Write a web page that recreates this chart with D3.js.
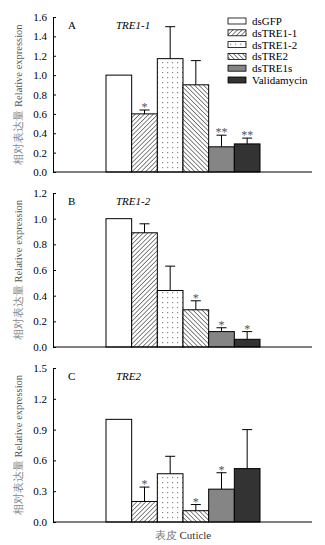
<!DOCTYPE html>
<html>
<head>
<meta charset="utf-8">
<script src="https://cdn.jsdelivr.net/npm/d3@7"></script>
<style>
  body { margin: 0; background: #fff; }
  text { font-family: "Liberation Serif", "Times New Roman", serif; }
</style>
</head>
<body>
<div id="chart"></div>
<script>
// treatments
var groups = ["dsGFP", "dsTRE1-1", "dsTRE1-2", "dsTRE2", "dsTRE1s", "Validamycin"];

// panel A: TRE1-1
var meanA = [1.0, 0.60, 1.17, 0.90, 0.26, 0.29];
var errA  = [0, 0.04, 0.33, 0.25, 0.12, 0.06];
var sigA  = ["", "*", "", "", "**", "**"];
var ticksA = [0, 0.2, 0.4, 0.6, 0.8, 1.0, 1.2, 1.4, 1.6];

// panel B: TRE1-2
var meanB = [1.0, 0.89, 0.44, 0.29, 0.12, 0.06];
var errB  = [0, 0.07, 0.19, 0.07, 0.03, 0.06];
var sigB  = ["", "", "", "*", "*", "*"];
var ticksB = [0, 0.2, 0.4, 0.6, 0.8, 1.0, 1.2];

// panel C: TRE2
var meanC = [1.0, 0.20, 0.47, 0.11, 0.32, 0.52];
var errC  = [0, 0.14, 0.17, 0.06, 0.16, 0.38];
var sigC  = ["", "*", "", "*", "*", ""];
var ticksC = [0, 0.3, 0.6, 0.9, 1.2, 1.5];

var fills = ["#ffffff", "url(#hatchR)", "url(#dots)", "url(#hatchL)", "#858585", "#333333"];

var svg = d3.select("#chart").append("svg")
  .attr("width", 325).attr("height", 545);

// fill patterns
var defs = svg.append("defs");
var pR = defs.append("pattern").attr("id", "hatchR")
  .attr("patternUnits", "userSpaceOnUse").attr("width", 3.2).attr("height", 3.2)
  .attr("patternTransform", "rotate(45)");
pR.append("rect").attr("width", 3.2).attr("height", 3.2).attr("fill", "#fff");
pR.append("line").attr("x1", 0).attr("y1", 0).attr("x2", 0).attr("y2", 3.2)
  .attr("stroke", "#444").attr("stroke-width", 1.3);
var pL = defs.append("pattern").attr("id", "hatchL")
  .attr("patternUnits", "userSpaceOnUse").attr("width", 3.2).attr("height", 3.2)
  .attr("patternTransform", "rotate(-45)");
pL.append("rect").attr("width", 3.2).attr("height", 3.2).attr("fill", "#fff");
pL.append("line").attr("x1", 0).attr("y1", 0).attr("x2", 0).attr("y2", 3.2)
  .attr("stroke", "#444").attr("stroke-width", 1.3);
var pD = defs.append("pattern").attr("id", "dots")
  .attr("patternUnits", "userSpaceOnUse").attr("width", 5).attr("height", 5);
pD.append("rect").attr("width", 5).attr("height", 5).attr("fill", "#fff");
pD.append("rect").attr("x", 2).attr("y", 2).attr("width", 1.2).attr("height", 1.2).attr("fill", "#888");

var left = 53, right = 312;
var x = d3.scaleBand().domain(groups).range([106, 260]).padding(0);

function panel(top, bottom, maxY, ticks, means, errs, sigs, letter, gene) {
  var y = d3.scaleLinear().domain([0, maxY]).range([bottom, top]);
  var g = svg.append("g");

  // bars
  g.selectAll("rect.bar").data(means).enter().append("rect")
    .attr("class", "bar")
    .attr("x", function(d, i) { return x(groups[i]); })
    .attr("y", function(d) { return y(d); })
    .attr("width", x.bandwidth())
    .attr("height", function(d) { return bottom - y(d); })
    .attr("fill", function(d, i) { return fills[i]; })
    .attr("stroke", "#000").attr("stroke-width", 1);

  // error bars (upper only)
  means.forEach(function(m, i) {
    if (errs[i] <= 0) return;
    var cx = x(groups[i]) + x.bandwidth() / 2;
    g.append("line").attr("x1", cx).attr("x2", cx)
      .attr("y1", y(m)).attr("y2", y(m + errs[i]))
      .attr("stroke", "#000");
    g.append("line").attr("x1", cx - 5).attr("x2", cx + 5)
      .attr("y1", y(m + errs[i])).attr("y2", y(m + errs[i]))
      .attr("stroke", "#000");
  });

  // significance
  g.selectAll("text.sig").data(means).enter().append("text")
    .attr("class", "sig")
    .attr("x", function(d, i) { return x(groups[i]) + x.bandwidth() / 2; })
    .attr("y", function(d, i) { return y(d + errs[i]) + 1; })
    .attr("text-anchor", "middle")
    .attr("font-size", 12).attr("fill", "#555")
    .text(function(d, i) { return sigs[i]; });

  // axes
  var ya = g.append("g").attr("transform", "translate(" + left + ",0)")
    .call(d3.axisLeft(y).tickValues(ticks).tickSizeInner(-3).tickSizeOuter(0)
      .tickPadding(6).tickFormat(d3.format(".1f")));
  ya.select(".domain").attr("stroke", "#000");
  ya.selectAll("text").attr("font-size", 11).attr("fill", "#000")
    .attr("font-family", "Liberation Serif, serif");
  g.append("line").attr("x1", left).attr("x2", right)
    .attr("y1", bottom).attr("y2", bottom).attr("stroke", "#000");

  g.append("text").attr("x", 68).attr("y", top + 12)
    .attr("font-size", 11).text(letter);
  g.append("text").attr("x", 116).attr("y", top + 12)
    .attr("font-size", 11).attr("font-style", "italic").text(gene);

  // y label
  var lab = g.append("text")
    .attr("transform", "translate(22," + ((top + bottom) / 2) + ") rotate(-90)")
    .attr("text-anchor", "middle").attr("font-size", 10.5).attr("fill", "#555");
  lab.append("tspan").attr("fill", "#888").text("相对表达量 ");
  lab.append("tspan").text("Relative expression");
}

panel(17, 172, 1.6, ticksA, meanA, errA, sigA, "A", "TRE1-1");
panel(193, 347, 1.2, ticksB, meanB, errB, sigB, "B", "TRE1-2");
panel(368, 522, 1.5, ticksC, meanC, errC, sigC, "C", "TRE2");

// x label
var xl = svg.append("text").attr("x", 183).attr("y", 539)
  .attr("text-anchor", "middle").attr("font-size", 11);
xl.append("tspan").attr("fill", "#777").text("表皮 ");
xl.append("tspan").attr("fill", "#333").text("Cuticle");

// legend
var leg = svg.append("g").attr("transform", "translate(228,18)");
groups.forEach(function(name, i) {
  var row = leg.append("g").attr("transform", "translate(0," + (i * 11.8) + ")");
  row.append("rect").attr("width", 18).attr("height", 6)
    .attr("fill", fills[i]).attr("stroke", "#000").attr("stroke-width", 0.8);
  row.append("text").attr("x", 24).attr("y", 7)
    .attr("font-size", 11).text(name);
});
</script>
</body>
</html>
